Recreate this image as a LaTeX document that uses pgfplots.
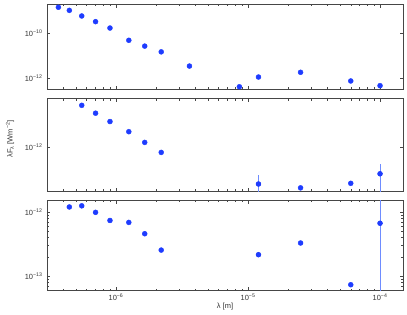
\documentclass[border=0pt]{standalone}
\usepackage{pgfplots}
\pgfplotsset{compat=1.18}
\usepackage{fontspec}
\setmainfont{Liberation Sans}
\definecolor{dotblue}{RGB}{30,60,255}
\definecolor{errblue}{RGB}{110,140,255}
\definecolor{axgray}{RGB}{70,70,70}
\pgfplotsset{
  panel/.style={
    scale only axis, width=356.3bp,
    xmin=3e-7, xmax=1.5e-4,
    anchor=north west,
    axis line style={axgray, line width=0.7bp},
    tick align=inside, tick style={axgray, line width=0.5bp},
    major tick length=3.5bp, minor tick length=2bp,
    xtick={1e-6,1e-5,1e-4},
    minor xtick={4e-7,5e-7,6e-7,7e-7,8e-7,9e-7,2e-6,3e-6,4e-6,5e-6,6e-6,7e-6,8e-6,9e-6,2e-5,3e-5,4e-5,5e-5,6e-5,7e-5,8e-5,9e-5},
    tick label style={font=\fontsize{7.5}{8}\selectfont, text=black!80},
    yticklabel style={xshift=-1bp},
    xticklabels={},
  },
  dots/.style={only marks, mark=*, mark size=2.5bp, color=dotblue, mark options={draw=dotblue, fill=dotblue}},
  errs/.style={only marks, mark=none, forget plot,
    error bars/y dir=both, error bars/y explicit,
    error bars/error bar style={errblue, line width=0.8bp}, error bars/error mark=none},
}
\begin{document}
\begin{tikzpicture}[x=1bp,y=1bp]
\path[use as bounding box] (0,0) rectangle (407,-315);
% Panel 1
\begin{loglogaxis}[panel, at={(47bp,-4.3bp)}, height=85bp,
  ymin=3.24e-13, ymax=1.95e-9,
  ytick={1e-12,1e-10}, yticklabels={10\textsuperscript{−12},10\textsuperscript{−10}},
  minor ytick={}]
\addplot[dots] coordinates {
(3.66e-7,1.44e-9) (4.43e-7,1.05e-9) (5.5e-7,5.9e-10) (7.0e-7,3.3e-10)
(9.0e-7,1.72e-10) (1.25e-6,4.9e-11) (1.65e-6,2.7e-11) (2.2e-6,1.5e-11)
(3.6e-6,3.5e-12) (8.6e-6,4.2e-13) (1.2e-5,1.14e-12) (2.5e-5,1.85e-12)
(6.0e-5,7.6e-13) (1.0e-4,4.7e-13)};
\end{loglogaxis}
% Panel 2
\begin{loglogaxis}[panel, at={(47bp,-98.7bp)}, height=92.6bp,
  ymin=1.37e-13, ymax=8.6e-12,
  ytick={1e-12}, yticklabels={10\textsuperscript{−12}},
  minor ytick={}]
\addplot[errs] coordinates {
(1.2e-5,1.9e-13) += (0,1.0e-13) -= (0,1.89e-13)
(1.0e-4,3.0e-13) += (0,1.56e-13) -= (0,2.99e-13)};
\addplot[dots] coordinates {
(5.5e-7,6.4e-12) (7.0e-7,4.5e-12) (9.0e-7,3.1e-12) (1.25e-6,1.97e-12)
(1.65e-6,1.22e-12) (2.2e-6,7.8e-13) (1.2e-5,1.9e-13) (2.5e-5,1.6e-13)
(6.0e-5,1.96e-13) (1.0e-4,3.0e-13)};
\end{loglogaxis}
% Panel 3
\begin{loglogaxis}[panel, at={(47bp,-200bp)}, height=90.7bp,
  ymin=5.97e-14, ymax=1.54e-12,
  ytick={1e-13,1e-12}, yticklabels={10\textsuperscript{−13},10\textsuperscript{−12}},
  minor ytick={7e-14,8e-14,9e-14,2e-13,3e-13,4e-13,5e-13,6e-13,7e-13,8e-13,9e-13},
  xticklabels={10\textsuperscript{−6},10\textsuperscript{−5},10\textsuperscript{−4}}]
\addplot[errs] coordinates {
(1.2e-5,2.17e-13) += (0,0.2e-13) -= (0,0.2e-13)
(1.0e-4,6.7e-13) += (0,1.0e-12) -= (0,6.69e-13)};
\addplot[dots] coordinates {
(4.43e-7,1.20e-12) (5.5e-7,1.25e-12) (7.0e-7,9.9e-13) (9.0e-7,7.4e-13)
(1.25e-6,6.9e-13) (1.65e-6,4.6e-13) (2.2e-6,2.56e-13) (1.2e-5,2.17e-13)
(2.5e-5,3.3e-13) (6.0e-5,7.4e-14) (1.0e-4,6.7e-13)};
\end{loglogaxis}
\node[rotate=90, font=\fontsize{7.5}{8}\selectfont, text=black!80] at (10,-139) {λF\textsubscript{λ} [Wm\textsuperscript{−2}]};
\node[font=\fontsize{7.5}{8}\selectfont, text=black!80] at (225,-307) {λ [m]};
\end{tikzpicture}
\end{document}
